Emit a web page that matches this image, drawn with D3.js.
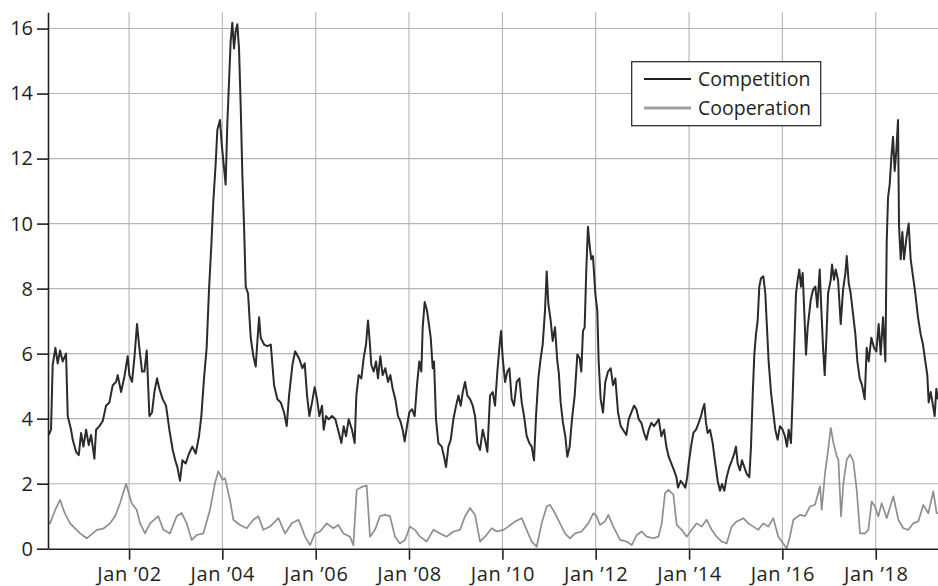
<!DOCTYPE html>
<html>
<head>
<meta charset="utf-8">
<script src="https://cdn.jsdelivr.net/npm/d3@7"></script>
<style>
  html, body { margin: 0; padding: 0; background: #fff; }
  svg { display: block; }
  text { font-family: "Open Sans", "Noto Sans", sans-serif; fill: #231f20; }
</style>
</head>
<body>
<svg id="chart" width="938" height="586"></svg>
<script>
// ---- Data (decimal years) ----
const seriesNames = ["Competition", "Cooperation"];
const yTicks = [0, 2, 4, 6, 8, 10, 12, 14, 16];
const xTickYears = [2002, 2004, 2006, 2008, 2010, 2012, 2014, 2016, 2018];

const compYears = [
2000.28,2000.329,2000.364,2000.422,2000.472,2000.522,2000.579,2000.650,2000.686,2000.757,2000.793,2000.864,2000.922,2000.972,
2001.021,2001.079,2001.136,2001.186,2001.257,2001.293,2001.364,2001.436,2001.507,2001.579,2001.650,2001.721,2001.757,2001.829,2001.900,2001.971,
2002.007,2002.064,2002.114,2002.171,2002.221,2002.279,2002.329,2002.379,2002.436,2002.493,2002.543,2002.600,2002.650,2002.721,2002.793,2002.864,2002.936,2002.990,
2003.036,2003.093,2003.143,2003.214,2003.286,2003.357,2003.429,2003.500,2003.550,2003.607,2003.664,2003.714,2003.764,2003.807,2003.857,2003.893,2003.950,2003.986,
2004.021,2004.071,2004.107,2004.143,2004.178,2004.214,2004.250,2004.286,2004.321,2004.357,2004.393,2004.428,2004.464,2004.500,2004.550,2004.607,2004.664,2004.714,2004.750,2004.786,2004.821,2004.893,2004.964,
2005.036,2005.107,2005.178,2005.250,2005.321,2005.378,2005.428,2005.500,2005.557,2005.643,2005.714,2005.764,2005.814,2005.864,2005.921,2005.978,
2006.028,2006.078,2006.135,2006.171,2006.221,2006.278,2006.350,2006.421,2006.478,2006.550,2006.600,2006.650,2006.707,2006.778,2006.835,2006.871,2006.921,2006.978,
2007.028,2007.078,2007.121,2007.157,2007.192,2007.243,2007.293,2007.335,2007.385,2007.435,2007.492,2007.550,2007.600,2007.650,2007.707,2007.764,2007.814,2007.864,2007.907,2007.957,
2008.007,2008.064,2008.121,2008.171,2008.221,2008.264,2008.293,2008.335,2008.385,2008.435,2008.464,2008.507,2008.535,2008.578,2008.628,2008.700,2008.750,2008.792,2008.842,2008.892,2008.949,
2009.007,2009.057,2009.107,2009.150,2009.199,2009.249,2009.307,2009.364,2009.414,2009.464,2009.521,2009.578,2009.628,2009.678,2009.735,2009.792,2009.842,2009.892,2009.935,2009.971,
2010.007,2010.057,2010.107,2010.150,2010.199,2010.249,2010.307,2010.364,2010.414,2010.464,2010.521,2010.578,2010.628,2010.678,2010.721,2010.771,2010.821,2010.864,2010.914,2010.950,2010.985,
2011.035,2011.078,2011.128,2011.178,2011.210,2011.249,2011.299,2011.349,2011.392,2011.442,2011.492,2011.550,2011.607,2011.657,2011.692,2011.728,2011.764,2011.799,2011.835,2011.871,2011.906,2011.942,2011.992,
2012.035,2012.064,2012.107,2012.157,2012.206,2012.264,2012.321,2012.371,2012.421,2012.478,2012.535,2012.585,2012.656,2012.706,2012.763,2012.821,2012.871,2012.921,2012.978,
2013.035,2013.085,2013.135,2013.192,2013.249,2013.299,2013.349,2013.406,2013.464,2013.513,2013.563,2013.621,2013.678,2013.728,2013.763,2013.821,2013.871,2013.921,2013.960,
2013.992,2014.042,2014.092,2014.149,2014.206,2014.256,2014.292,2014.328,2014.363,2014.399,2014.449,2014.506,2014.563,2014.613,2014.663,2014.706,2014.756,2014.806,2014.863,2014.920,2014.970,
2015.006,2015.042,2015.092,2015.135,2015.185,2015.235,2015.292,2015.328,2015.364,2015.399,2015.435,2015.471,2015.506,2015.542,2015.592,2015.635,2015.663,2015.706,2015.756,2015.806,2015.849,2015.899,2015.949,
2016.006,2016.056,2016.099,2016.135,2016.185,2016.221,2016.256,2016.292,2016.328,2016.363,2016.399,2016.435,2016.471,2016.506,2016.542,2016.606,2016.656,2016.706,2016.749,2016.799,2016.835,2016.871,2016.906,2016.942,2016.978,
2017.035,2017.063,2017.106,2017.142,2017.192,2017.249,2017.299,2017.349,2017.378,2017.421,2017.463,2017.513,2017.563,2017.606,2017.656,2017.706,2017.763,2017.806,2017.849,2017.906,2017.963,
2018.013,2018.063,2018.106,2018.156,2018.206,2018.235,2018.263,2018.299,2018.335,2018.371,2018.406,2018.442,2018.478,2018.499,2018.535,2018.571,2018.606,2018.656,2018.706,2018.749,2018.799,2018.849,2018.906,2018.963,
2019.013,2019.063,2019.106,2019.135,2019.178,2019.228,2019.264,2019.299,2019.330
];
const compValues = [
3.5,3.66,5.65,6.18,5.7,6.1,5.76,6.0,4.08,3.66,3.35,2.98,2.88,3.56,
3.14,3.66,3.19,3.5,2.77,3.66,3.77,3.93,4.4,4.5,5.03,5.13,5.34,4.82,5.29,5.92,
5.34,5.13,5.86,6.91,6.18,5.45,5.45,6.1,4.08,4.19,4.82,5.24,4.92,4.6,4.4,3.66,3.04,2.72,
2.51,2.09,2.72,2.62,2.93,3.14,2.93,3.46,4.08,5.24,6.18,7.96,9.32,10.68,11.83,12.88,13.19,12.46,
11.94,11.2,13.09,14.35,15.6,16.18,15.39,15.92,16.13,15.39,13.61,11.52,9.95,8.06,7.85,6.49,5.92,5.6,6.39,7.12,6.49,6.28,6.23,
6.28,5.03,4.6,4.5,4.19,3.77,4.71,5.65,6.07,5.86,5.55,5.7,4.71,4.08,4.5,4.97,
4.6,4.08,4.4,3.66,4.08,3.98,4.08,3.98,3.66,3.25,3.77,3.46,3.98,3.66,3.25,4.71,5.34,5.24,
5.86,6.28,7.02,6.39,5.65,5.45,5.76,5.24,5.92,5.34,5.55,5.13,5.34,4.92,4.6,4.08,3.93,3.66,3.3,3.77,
4.19,4.29,4.08,5.03,5.76,5.45,6.81,7.59,7.33,6.81,6.5,5.55,5.76,3.98,3.25,3.14,2.83,2.51,3.14,3.35,3.98,
4.4,4.71,4.4,4.82,5.13,4.71,4.6,4.4,4.08,3.25,3.04,3.66,3.35,2.98,4.71,4.82,4.4,5.45,6.18,6.7,
5.86,5.13,5.45,5.55,4.6,4.4,5.13,5.24,4.5,4.08,3.46,3.25,3.14,2.72,4.08,5.24,5.86,6.28,7.33,8.53,7.54,
7.02,6.39,6.81,5.76,5.4,4.5,3.87,3.46,2.83,3.14,3.98,4.71,5.97,5.86,5.45,6.7,6.81,8.59,9.9,9.32,8.9,9.0,7.85,
7.33,5.76,4.6,4.19,5.13,5.45,5.55,5.03,5.24,4.19,3.77,3.66,3.5,3.98,4.19,4.4,4.29,3.98,3.87,
3.56,3.35,3.66,3.87,3.77,3.87,3.98,3.46,3.66,3.14,2.83,2.62,2.41,2.2,1.88,2.09,1.99,1.88,2.2,
2.62,3.14,3.56,3.66,3.87,4.08,4.29,4.45,3.87,3.56,3.66,3.25,2.62,2.09,1.78,1.99,1.78,2.2,2.51,2.72,2.93,
3.14,2.62,2.41,2.72,2.51,2.3,2.2,3.14,4.71,5.97,6.6,7.02,8.06,8.32,8.38,7.85,7.02,5.76,4.82,4.19,3.66,3.35,3.77,
3.66,3.46,3.14,3.66,3.25,4.71,6.28,7.85,8.27,8.59,8.06,8.48,7.22,5.97,6.81,7.64,7.96,8.06,7.43,8.59,7.33,6.18,5.34,6.49,7.85,
8.27,8.74,8.27,8.59,8.27,6.91,7.96,8.48,9.0,8.17,7.85,7.22,6.6,5.76,5.24,5.03,4.6,6.18,5.76,6.49,6.18,
6.07,6.91,5.97,7.12,5.76,9.42,10.79,11.2,12.04,12.67,11.62,12.25,13.19,9.95,8.9,9.74,8.9,9.53,10.0,8.9,8.38,7.85,7.12,6.6,
6.28,5.76,5.34,4.5,4.82,4.4,4.08,4.92,4.6
];

const coopYears = [
2000.28,2000.307,2000.42,2000.522,2000.62,2000.736,2000.950,2001.093,2001.20,2001.307,2001.45,2001.593,2001.700,2001.807,2001.936,
2002.057,2002.164,2002.236,2002.343,2002.450,2002.628,2002.736,2002.879,2003.021,2003.129,2003.236,2003.343,2003.450,2003.593,2003.736,2003.843,2003.914,
2004.007,2004.057,2004.164,2004.236,2004.378,2004.521,2004.664,2004.771,2004.878,2005.021,2005.200,2005.343,2005.486,2005.628,2005.664,2005.771,2005.878,2005.985,
2006.093,2006.235,2006.378,2006.485,2006.593,2006.735,2006.807,2006.878,2006.985,2007.093,2007.164,2007.271,2007.378,2007.485,2007.593,2007.700,2007.807,2007.914,
2008.021,2008.128,2008.235,2008.378,2008.521,2008.664,2008.807,2008.950,2009.092,2009.199,2009.307,2009.414,2009.521,2009.628,2009.771,2009.878,
2010.021,2010.128,2010.271,2010.414,2010.521,2010.628,2010.735,2010.842,2010.950,2011.021,2011.128,2011.235,2011.342,2011.449,2011.557,2011.699,2011.842,2011.949,
2012.021,2012.092,2012.199,2012.271,2012.378,2012.521,2012.664,2012.771,2012.878,2012.985,2013.092,2013.235,2013.342,2013.414,2013.485,2013.556,2013.664,2013.735,2013.842,2013.949,
2014.056,2014.164,2014.271,2014.378,2014.485,2014.592,2014.699,2014.806,2014.914,2015.021,2015.163,2015.270,2015.378,2015.485,2015.592,2015.699,2015.806,2015.913,
2016.020,2016.092,2016.163,2016.235,2016.378,2016.485,2016.592,2016.699,2016.806,2016.842,2016.913,2016.985,2017.035,2017.092,2017.163,2017.199,2017.256,2017.306,2017.378,2017.449,2017.520,2017.592,2017.663,2017.770,2017.842,2017.913,2017.984,
2018.056,2018.127,2018.235,2018.378,2018.485,2018.592,2018.699,2018.806,2018.913,2019.020,2019.127,2019.234,2019.306,2019.330
];
const coopValues = [
0.8,0.78,1.2,1.5,1.1,0.78,0.47,0.32,0.45,0.58,0.62,0.78,1.0,1.4,2.0,
1.4,1.2,0.78,0.47,0.78,1.0,0.58,0.47,1.0,1.1,0.78,0.27,0.42,0.47,1.2,2.02,2.38,
2.12,2.17,1.5,0.89,0.73,0.63,0.89,1.0,0.58,0.68,0.94,0.47,0.78,0.89,0.78,0.37,0.11,0.47,
0.53,0.78,0.63,0.73,0.47,0.37,0.11,1.81,1.9,1.94,0.37,0.58,1.0,1.04,1.0,0.37,0.16,0.27,
0.68,0.58,0.37,0.22,0.58,0.47,0.37,0.53,0.58,1.0,1.25,1.04,0.22,0.37,0.63,0.53,
0.58,0.68,0.84,0.94,0.58,0.22,0.06,0.78,1.3,1.35,1.09,0.78,0.47,0.32,0.47,0.53,0.78,1.09,
1.0,0.73,0.84,1.04,0.68,0.27,0.22,0.11,0.42,0.53,0.37,0.32,0.37,0.78,1.71,1.81,1.66,0.73,0.58,0.37,
0.58,0.78,0.68,0.89,0.58,0.37,0.22,0.16,0.68,0.84,0.94,0.78,0.68,0.58,0.78,0.68,0.94,0.37,
0.16,0.01,0.37,0.89,1.04,1.0,1.3,1.35,1.92,1.2,2.33,3.1,3.72,3.26,2.85,2.74,0.99,2.02,2.74,2.9,2.69,1.81,0.47,0.47,0.58,1.45,1.3,
0.99,1.4,0.94,1.61,0.89,0.63,0.58,0.78,0.84,1.35,1.09,1.76,1.09,1.1
];

// ---- Helpers ----
function yearToDate(yv) {
  const yr = Math.floor(yv);
  const a = new Date(yr, 0, 1), b = new Date(yr + 1, 0, 1);
  return new Date(+a + (yv - yr) * (b - a));
}
const comp = compYears.map((t, i) => ({ date: yearToDate(t), value: compValues[i] }));
const coop = coopYears.map((t, i) => ({ date: yearToDate(t), value: coopValues[i] }));

// ---- Layout ----
const svg = d3.select("#chart");
const plotLeft = 48, plotRight = 938, plotTop = 12.3, plotBottom = 548.7;

const x = d3.scaleTime()
  .domain([yearToDate(2000.264), yearToDate(2019.335)])
  .range([plotLeft, plotRight]);
const y = d3.scaleLinear().domain([0, 16.5]).range([plotBottom, plotTop]);

const tickDates = xTickYears.map(yr => new Date(yr, 0, 1));

// Grid
const grid = svg.append("g").attr("stroke", "#b4b4b4").attr("stroke-width", 1.1);
grid.selectAll("line.v").data(tickDates).join("line").attr("class", "v")
  .attr("x1", d => x(d)).attr("x2", d => x(d))
  .attr("y1", plotTop).attr("y2", plotBottom);
grid.selectAll("line.h").data(yTicks.filter(v => v > 0)).join("line").attr("class", "h")
  .attr("x1", plotLeft).attr("x2", plotRight)
  .attr("y1", d => y(d)).attr("y2", d => y(d));

// Lines
const line = d3.line().x(d => x(d.date)).y(d => y(d.value));
svg.append("path").datum(coop)
  .attr("fill", "none").attr("stroke", "#8e8e8e").attr("stroke-width", 1.7)
  .attr("stroke-linejoin", "round").attr("d", line);
svg.append("path").datum(comp)
  .attr("fill", "none").attr("stroke", "#2b2b2b").attr("stroke-width", 2)
  .attr("stroke-linejoin", "round").attr("d", line);

// Axes
const xAxis = d3.axisBottom(x).tickValues(tickDates).tickSize(11).tickSizeOuter(0).tickPadding(7)
  .tickFormat(d => "Jan \u2019" + String(d.getFullYear()).slice(2));
const gx = svg.append("g").attr("transform", `translate(0,${plotBottom})`).call(xAxis);
const yAxis = d3.axisLeft(y).tickValues(yTicks).tickSize(11).tickSizeOuter(0).tickPadding(4);
const gy = svg.append("g").attr("transform", `translate(${plotLeft},0)`).call(yAxis);
[gx, gy].forEach(g => {
  g.select(".domain").attr("stroke", "#231f20").attr("stroke-width", 1.6);
  g.selectAll(".tick line").attr("stroke", "#231f20").attr("stroke-width", 1.6);
  g.selectAll(".tick text").attr("font-family", "'Open Sans', 'Noto Sans', sans-serif")
    .attr("font-size", 20).attr("fill", "#231f20");
});
gx.selectAll(".tick text").attr("letter-spacing", 0.6);

// Legend
const lg = svg.append("g");
lg.append("rect").attr("x", 631.7).attr("y", 61.7).attr("width", 189).attr("height", 64)
  .attr("fill", "#fff").attr("stroke", "#231f20").attr("stroke-width", 1.2);
const legendItems = [
  { name: seriesNames[0], color: "#231f20", w: 2.2, yy: 79 },
  { name: seriesNames[1], color: "#a0a0a0", w: 3.2, yy: 108 }
];
legendItems.forEach(it => {
  lg.append("line").attr("x1", 644).attr("x2", 691).attr("y1", it.yy).attr("y2", it.yy)
    .attr("stroke", it.color).attr("stroke-width", it.w);
  lg.append("text").attr("x", 698).attr("y", it.yy + 7)
    .attr("font-size", 19.5).text(it.name);
});
</script>
</body>
</html>
